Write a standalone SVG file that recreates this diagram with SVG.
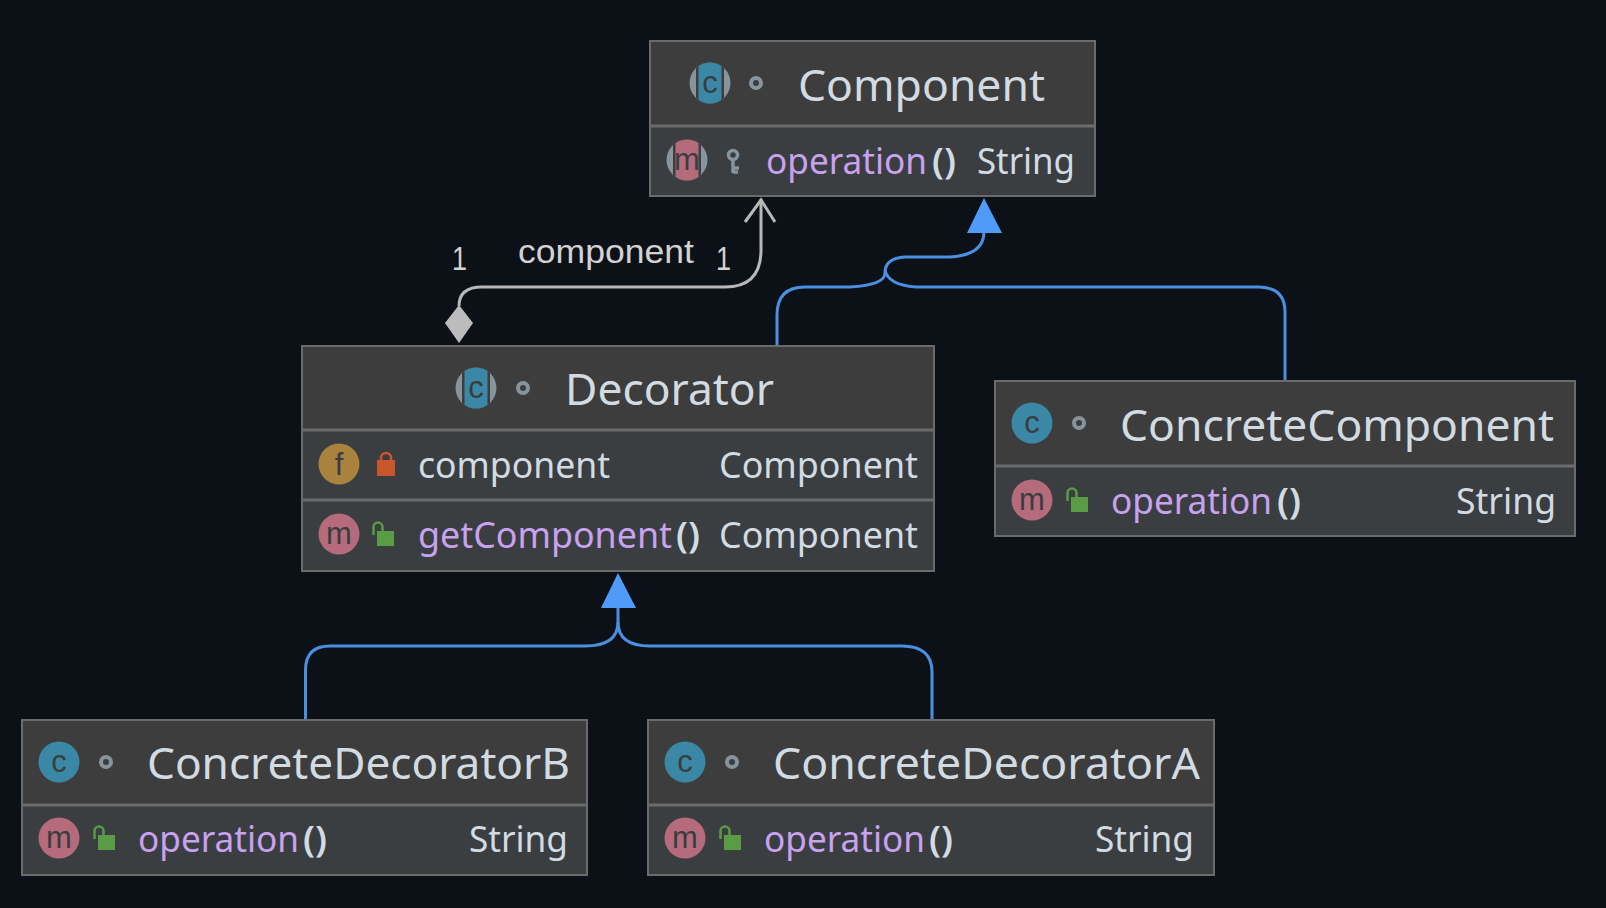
<svg xmlns="http://www.w3.org/2000/svg" width="1606" height="908" viewBox="0 0 1606 908">
<style>
text{font-family:"Noto Sans","Open Sans","Liberation Sans",sans-serif}
.box{fill:#3a3e41;stroke:#6b6b6b;stroke-width:2}
.head{fill:#3d3d3d}
.div{stroke:#6b6b6b;stroke-width:3;fill:none}
.title{font-size:43px;fill:#d3dbe2}
.mem{font-size:36px;fill:#d3dbe2}
.par{font-size:36px;fill:#d3dbe2;font-weight:600}
.fn{font-size:36px;fill:#c8a2ee}
.ico{font-size:31px;fill:#3a3d40;text-anchor:middle;font-family:"Liberation Sans",Arial,sans-serif}
.edge{font-size:33px;fill:#d2d2d2;font-family:"Liberation Sans",Arial,sans-serif}
.blue{fill:none;stroke:#4a8fe0;stroke-width:3}
.gray{fill:none;stroke:#b8b8b8;stroke-width:3}
.vis{fill:none;stroke:#87949b;stroke-width:4}
</style>
<defs>
<clipPath id="cc"><circle r="20.5"/></clipPath>
<g id="absC"><circle r="20.5" fill="#87949b"/><g clip-path="url(#cc)"><rect x="-14" y="-21" width="28" height="42" fill="#3d3d3d"/><rect x="-11.500" y="-21" width="23" height="42" fill="#3b88a6"/></g></g>
<g id="absM"><circle r="20.5" fill="#87949b"/><g clip-path="url(#cc)"><rect x="-14" y="-21" width="28" height="42" fill="#3a3e41"/><rect x="-11.500" y="-21" width="23" height="42" fill="#b56b7c"/></g></g>
<circle id="clsC" r="20.500" fill="#3b88a6"/>
<circle id="clsM" r="20.500" fill="#b56b7c"/>
<circle id="vis" r="5" class="vis"/>
<g id="openLock"><rect x="0" y="0" width="17" height="15" fill="#5a9b45"/><path d="M-3.500 4 V-4 a4.500 4.500 0 0 1 9 0 V0" fill="none" stroke="#5a9b45" stroke-width="2.500"/></g>
</defs>
<rect width="1606" height="908" fill="#0c1118"/>

<g id="connectors">
<path class="gray" d="M761 199 V250 Q761 287 725 287 H482 Q459 287 459 306"/>
<path class="gray" d="M745 222 L761 200 L775 222"/>
<path d="M459 305 L473 323 L459 343 L445 323 Z" fill="#bcbcbc"/>
<path class="blue" d="M777 345 V315 Q777 287 805 287 H850 Q885 285 885 273 Q885 258 905 257 H950 Q984 255 984 232"/>
<path class="blue" d="M1285 380 V312 Q1285 287 1258 287 H916 Q888 285 885 270"/>
<path d="M984 198 L1002 233 H967 Z" fill="#4f9bf7"/>
<path class="blue" d="M305.500 719 V670 Q305.500 646 330 646 H585 Q618 646 618 622 V600"/>
<path class="blue" d="M932 719 V672 Q932 646 902 646 H650 Q618 646 618 622"/>
<path d="M618 573 L636 608 H601 Z" fill="#4f9bf7"/>
<text class="edge" x="452" y="270" textLength="15" lengthAdjust="spacingAndGlyphs">1</text>
<text class="edge" x="518" y="263" textLength="176" lengthAdjust="spacingAndGlyphs">component</text>
<text class="edge" x="716" y="270" textLength="15" lengthAdjust="spacingAndGlyphs">1</text>
</g>

<g id="Component">
<rect class="box" x="650" y="41" width="445" height="155"/>
<rect class="head" x="651" y="42" width="443" height="84"/>
<path class="div" d="M651 126 H1094"/>
<use href="#absC" x="710" y="83"/><text class="ico" x="710" y="93">c</text>
<use href="#vis" x="756" y="83"/>
<text class="title" x="798" y="101" textLength="247" lengthAdjust="spacingAndGlyphs">Component</text>
<use href="#absM" x="687" y="160"/><text class="ico" x="687" y="170">m</text>
<g fill="none" stroke="#87949b" stroke-width="3.500"><circle cx="733" cy="155" r="4.500"/><path d="M733 160 V173 M733 168 H739 M733 172 H738"/></g>
<text class="fn" x="766" y="174" textLength="161" lengthAdjust="spacingAndGlyphs">operation</text>
<text class="par" x="932" y="174" textLength="24" lengthAdjust="spacingAndGlyphs">()</text>
<text class="mem" x="977" y="174" textLength="98" lengthAdjust="spacingAndGlyphs">String</text>
</g>

<g id="Decorator">
<rect class="box" x="302" y="346" width="632" height="225"/>
<rect class="head" x="303" y="347" width="630" height="83"/>
<path class="div" d="M303 430 H933 M303 500 H933"/>
<use href="#absC" x="476" y="388"/><text class="ico" x="476" y="398">c</text>
<use href="#vis" x="523" y="388"/>
<text class="title" x="565" y="405" textLength="209" lengthAdjust="spacingAndGlyphs">Decorator</text>
<circle cx="339" cy="464" r="20.500" fill="#a9823d"/><text class="ico" x="339" y="475">f</text>
<rect x="377" y="460" width="18" height="16" fill="#c8582b"/><path d="M381 461 V458 a5 5 0 0 1 10 0 V461" fill="none" stroke="#c8582b" stroke-width="2.500"/>
<text class="mem" x="418" y="478" textLength="192" lengthAdjust="spacingAndGlyphs">component</text>
<text class="mem" x="719" y="478" textLength="199" lengthAdjust="spacingAndGlyphs">Component</text>
<use href="#clsM" x="339" y="534"/><text class="ico" x="339" y="544">m</text>
<use href="#openLock" x="377" y="531"/>
<text class="fn" x="418" y="548" textLength="254" lengthAdjust="spacingAndGlyphs">getComponent</text>
<text class="par" x="676" y="548" textLength="24" lengthAdjust="spacingAndGlyphs">()</text>
<text class="mem" x="719" y="548" textLength="199" lengthAdjust="spacingAndGlyphs">Component</text>
</g>

<g id="ConcreteComponent">
<rect class="box" x="995" y="381" width="580" height="155"/>
<rect class="head" x="996" y="382" width="578" height="84"/>
<path class="div" d="M996 466 H1574"/>
<use href="#clsC" x="1032" y="423"/><text class="ico" x="1032" y="433">c</text>
<use href="#vis" x="1079" y="423"/>
<text class="title" x="1120" y="441" textLength="434" lengthAdjust="spacingAndGlyphs">ConcreteComponent</text>
<use href="#clsM" x="1032" y="500"/><text class="ico" x="1032" y="510">m</text>
<use href="#openLock" x="1071" y="497"/>
<text class="fn" x="1111" y="514" textLength="161" lengthAdjust="spacingAndGlyphs">operation</text>
<text class="par" x="1277" y="514" textLength="24" lengthAdjust="spacingAndGlyphs">()</text>
<text class="mem" x="1456" y="514" textLength="100" lengthAdjust="spacingAndGlyphs">String</text>
</g>

<g id="ConcreteDecoratorB">
<rect class="box" x="22" y="720" width="565" height="155"/>
<rect class="head" x="23" y="721" width="563" height="84"/>
<path class="div" d="M23 805 H586"/>
<use href="#clsC" x="59" y="762"/><text class="ico" x="59" y="772">c</text>
<use href="#vis" x="106" y="762"/>
<text class="title" x="147" y="779" textLength="423" lengthAdjust="spacingAndGlyphs">ConcreteDecoratorB</text>
<use href="#clsM" x="59" y="838"/><text class="ico" x="59" y="848">m</text>
<use href="#openLock" x="98" y="835"/>
<text class="fn" x="138" y="852" textLength="161" lengthAdjust="spacingAndGlyphs">operation</text>
<text class="par" x="303" y="852" textLength="24" lengthAdjust="spacingAndGlyphs">()</text>
<text class="mem" x="469" y="852" textLength="99" lengthAdjust="spacingAndGlyphs">String</text>
</g>

<g id="ConcreteDecoratorA">
<rect class="box" x="648" y="720" width="566" height="155"/>
<rect class="head" x="649" y="721" width="564" height="84"/>
<path class="div" d="M649 805 H1213"/>
<use href="#clsC" x="685" y="762"/><text class="ico" x="685" y="772">c</text>
<use href="#vis" x="732" y="762"/>
<text class="title" x="773" y="779" textLength="427" lengthAdjust="spacingAndGlyphs">ConcreteDecoratorA</text>
<use href="#clsM" x="685" y="838"/><text class="ico" x="685" y="848">m</text>
<use href="#openLock" x="724" y="835"/>
<text class="fn" x="764" y="852" textLength="161" lengthAdjust="spacingAndGlyphs">operation</text>
<text class="par" x="929" y="852" textLength="24" lengthAdjust="spacingAndGlyphs">()</text>
<text class="mem" x="1095" y="852" textLength="99" lengthAdjust="spacingAndGlyphs">String</text>
</g>
</svg>
